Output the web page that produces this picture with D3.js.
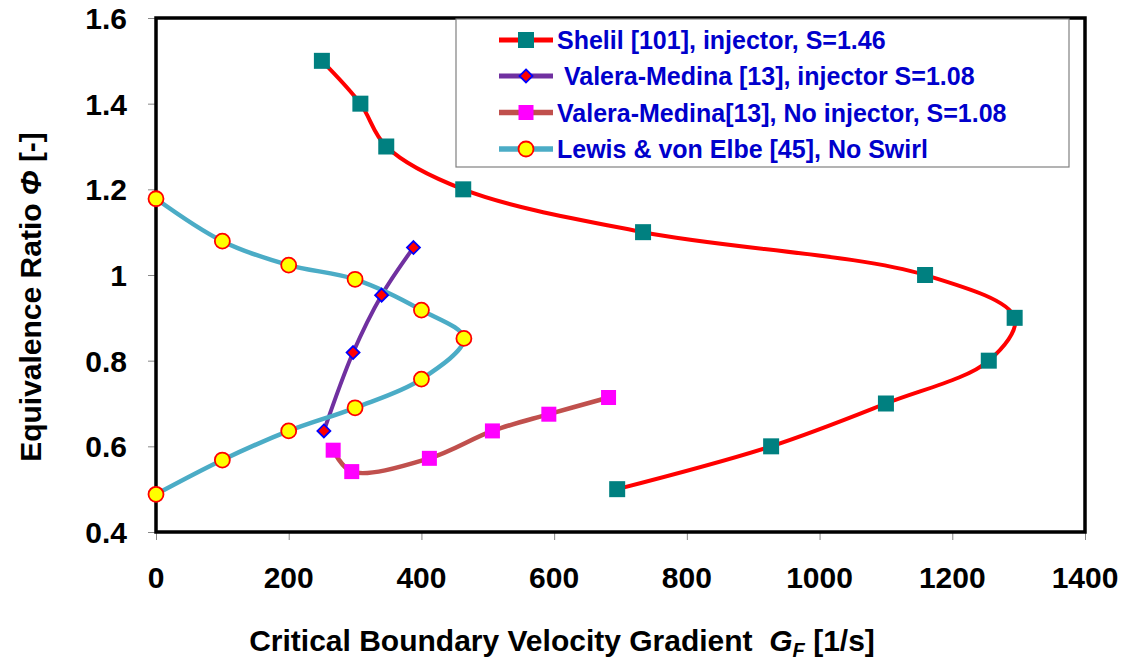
<!DOCTYPE html>
<html>
<head>
<meta charset="utf-8">
<script src="https://cdn.jsdelivr.net/npm/d3@7"></script>
<style>
  body { margin: 0; background: #fff; }
  svg { font-family: "Liberation Sans", Arial, sans-serif; font-weight: bold; }
</style>
</head>
<body>
<svg id="chart"></svg>
<script>
// values
var shelilX = [250, 308, 347, 463, 734, 1159, 1294, 1255, 1100, 927, 695];
var shelilY = [1.5, 1.4, 1.3, 1.2, 1.1, 1.0, 0.9, 0.8, 0.7, 0.6, 0.5];

var vmInjX = [388, 340, 297, 253];
var vmInjY = [1.064, 0.953, 0.819, 0.636];

var vmNoInjX = [267, 295, 412, 507, 592, 682];
var vmNoInjY = [0.591, 0.541, 0.572, 0.636, 0.675, 0.714];

var lewisX = [0, 100, 200, 300, 400, 464, 400, 300, 200, 100, 0];
var lewisY = [1.178, 1.079, 1.023, 0.99, 0.918, 0.852, 0.757, 0.69, 0.636, 0.568, 0.488];

var xTicks = [0, 200, 400, 600, 800, 1000, 1200, 1400];
var yTicks = [0.4, 0.6, 0.8, 1.0, 1.2, 1.4, 1.6];

var legendNames = ["Shelil [101], injector, S=1.46",
  "\u00a0Valera-Medina [13], injector S=1.08",
  "Valera-Medina[13], No injector, S=1.08",
  "Lewis & von Elbe [45], No Swirl"];

function zip(xs, ys) { return xs.map(function(v, i) { return [v, ys[i]]; }); }

var series = [
  { name: legendNames[0], pts: zip(shelilX, shelilY), line: "#ff0000", lw: 4, marker: "square", size: 16, fill: "#008080", stroke: "none" },
  { name: legendNames[1], pts: zip(vmInjX, vmInjY), line: "#7030a0", lw: 4, marker: "diamond", size: 10, fill: "#ff0000", stroke: "#0000ff" },
  { name: legendNames[2], pts: zip(vmNoInjX, vmNoInjY), line: "#c0504d", lw: 4.5, marker: "square", size: 15, fill: "#ff00ff", stroke: "none" },
  { name: legendNames[3], pts: zip(lewisX, lewisY), line: "#4bacc6", lw: 4.5, marker: "circle", size: 7.5, fill: "#ffff00", stroke: "#ff0000" }
];

var W = 1126, H = 660;
var svg = d3.select("#chart").attr("width", W).attr("height", H);

var x = d3.scaleLinear().domain([0, 1400]).range([156, 1085]);
var y = d3.scaleLinear().domain([0.4, 1.6]).range([532, 18]);

// ticks
svg.append("g")
    .attr("transform", "translate(0,532)")
    .call(d3.axisBottom(x).tickValues(xTicks).tickSize(8).tickFormat(""))
    .call(function(g) { g.select(".domain").remove(); g.selectAll("line").attr("stroke", "#888"); });
svg.append("g")
    .attr("transform", "translate(156,0)")
    .call(d3.axisLeft(y).tickValues(yTicks).tickSize(8).tickFormat(""))
    .call(function(g) { g.select(".domain").remove(); g.selectAll("line").attr("stroke", "#888"); });

// tick labels
svg.selectAll(".xl").data(xTicks).enter().append("text")
    .attr("x", function(d) { return x(d); })
    .attr("y", 588)
    .attr("text-anchor", "middle")
    .style("font-size", "30px")
    .text(function(d) { return d; });
svg.selectAll(".yl").data(yTicks).enter().append("text")
    .attr("x", 127)
    .attr("y", function(d) { return y(d) + 11; })
    .attr("text-anchor", "end")
    .style("font-size", "30px")
    .text(function(d) { return d3.format("")(+d.toFixed(1)); });

// frame
svg.append("rect")
    .attr("x", x(0)).attr("y", y(1.6))
    .attr("width", x(1400) - x(0)).attr("height", y(0.4) - y(1.6))
    .attr("fill", "none").attr("stroke", "#000").attr("stroke-width", 3.5);

// axis titles
var xt = svg.append("text").attr("x", 562).attr("y", 651).attr("text-anchor", "middle").style("font-size", "30px");
xt.append("tspan").text("Critical Boundary Velocity Gradient\u00a0\u00a0");
xt.append("tspan").style("font-style", "italic").text("G");
xt.append("tspan").style("font-style", "italic").style("font-size", "20px").attr("dy", 6).text("F");
xt.append("tspan").attr("dy", -6).text(" [1/s]");

var yt = svg.append("text").attr("transform", "translate(41,297) rotate(-90)")
    .attr("text-anchor", "middle").style("font-size", "30px");
yt.append("tspan").text("Equivalence Ratio ");
yt.append("tspan").style("font-style", "italic").text("\u03a6");
yt.append("tspan").text(" [-]");

// lines
var line = d3.line()
    .x(function(d) { return x(d[0]); })
    .y(function(d) { return y(d[1]); })
    .curve(d3.curveCatmullRom.alpha(0.5));

var plot = svg.append("g");

function drawMarker(g, s, cx, cy) {
  if (s.marker === "square") {
    g.append("rect").attr("x", cx - s.size / 2).attr("y", cy - s.size / 2)
      .attr("width", s.size).attr("height", s.size).attr("fill", s.fill);
  } else if (s.marker === "diamond") {
    var r = s.size / 2 + 1.5;
    g.append("path").attr("d", "M" + cx + "," + (cy - r) + "L" + (cx + r) + "," + cy + "L" + cx + "," + (cy + r) + "L" + (cx - r) + "," + cy + "Z")
      .attr("fill", s.fill).attr("stroke", s.stroke).attr("stroke-width", 1.8);
  } else {
    g.append("circle").attr("cx", cx).attr("cy", cy).attr("r", s.size)
      .attr("fill", s.fill).attr("stroke", s.stroke).attr("stroke-width", 1.8);
  }
}

series.forEach(function(s) {
  plot.append("path").datum(s.pts)
      .attr("d", line).attr("fill", "none")
      .attr("stroke", s.line).attr("stroke-width", s.lw);
});
series.forEach(function(s) {
  s.pts.forEach(function(p) { drawMarker(plot, s, x(p[0]), y(p[1])); });
});

// legend
var lg = svg.append("g");
lg.append("rect").attr("x", 456).attr("y", 19).attr("width", 613).attr("height", 148)
    .attr("fill", "#fff").attr("stroke", "#808080").attr("stroke-width", 1.2);
var rowY = [40, 76, 112.5, 149];
series.forEach(function(s, i) {
  var ry = rowY[i];
  lg.append("line").attr("x1", 499).attr("x2", 553).attr("y1", ry).attr("y2", ry)
      .attr("stroke", s.line).attr("stroke-width", s.lw + 1);
  drawMarker(lg, s, 526, ry);
  lg.append("text").attr("x", 557).attr("y", ry + 9)
      .style("font-size", "25px").attr("fill", "#0000cc")
      .text(s.name);
});
</script>
</body>
</html>
